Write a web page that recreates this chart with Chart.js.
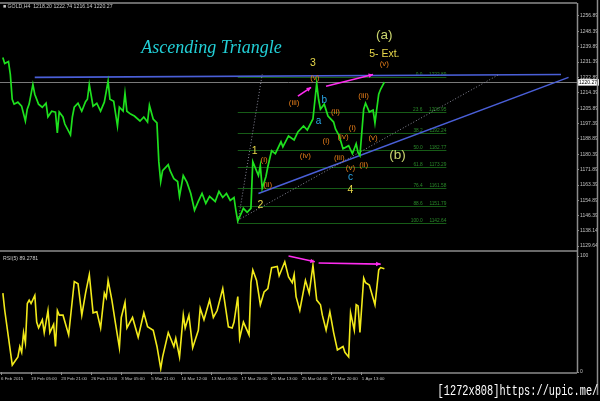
<!DOCTYPE html>
<html><head><meta charset="utf-8">
<script src="https://cdn.jsdelivr.net/npm/chart.js@4.4.1/dist/chart.umd.min.js"></script>
<style>
html,body{margin:0;padding:0;background:#000;width:600px;height:401px;overflow:hidden;font-family:'Liberation Sans',sans-serif}
#wrap{position:relative;width:600px;height:401px}
#c1{position:absolute;left:0;top:0}
#c2{position:absolute;left:0;top:252px}
.hdr{position:absolute;color:#c8c8c8;font-size:5.2px;white-space:nowrap;line-height:6px}
#wm{position:absolute;right:2px;top:383px;color:#fff;font-size:14.5px;font-family:'Liberation Mono',monospace;white-space:nowrap;transform:scaleX(0.71);transform-origin:right top}
</style></head><body>
<div id="wrap">
<canvas id="c1" width="600" height="252"></canvas>
<canvas id="c2" width="600" height="149"></canvas>
<div class="hdr" style="left:3px;top:3px">&#9632; GOLD,H4&nbsp; 1218.20 1222.74 1216.14 1220.27</div>
<div class="hdr" style="left:3px;top:255px">RSI(5) 89.2781</div>
<div id="wm">[1272x808]https://upic.me/</div>
</div>
<script>
// ---- data (bar index on H4 timeline, price) ----
const priceBars=[1,2,4,5,6,7,9,11,13,14,15,17,18,20,22,24,25,27,29,30,31,33,34,37,38,39,41,43,45,46,47,49,51,53,55,57,58,60,62,63,65,66,67,69,71,74,76,78,79,81,83,84,85,86,89,90,92,94,95,97,99,101,103,105,107,109,111,114,116,118,120,122,124,125,126,129,131,133,134,137,138,139,141,142,144,146,149,150,153,156,158,161,163,166,168,169,170,172,174,177,178,180,182,185,187,189,190,191,193,194,196,198,199,201,202,204];
const priceCloses=[1233.9,1230.6,1231.7,1224.5,1210.8,1208.1,1209.2,1207.0,1198.8,1205.3,1208.1,1219.0,1213.6,1208.1,1206.4,1208.6,1201.0,1204.2,1203.7,1192.2,1203.7,1201.0,1197.1,1191.1,1201.0,1206.4,1208.6,1204.2,1209.5,1210.8,1219.0,1207.0,1208.6,1204.2,1209.2,1220.7,1210.8,1209.7,1196.0,1206.4,1204.2,1214.1,1204.2,1202.6,1201.5,1198.8,1201.0,1198.2,1207.5,1199.9,1197.7,1176.3,1165.3,1171.3,1174.6,1171.3,1166.9,1165.3,1157.1,1168.6,1164.8,1158.7,1149.4,1154.3,1158.7,1153.2,1157.1,1154.3,1159.8,1156.5,1158.7,1154.9,1156.5,1149.4,1143.4,1150.5,1148.3,1150.5,1176.3,1168.6,1174.1,1161.5,1168.1,1173.5,1182.3,1180.7,1187.3,1184.5,1190.5,1188.3,1192.7,1196.0,1193.8,1199.9,1219.6,1210.8,1205.3,1208.1,1201.5,1198.2,1194.4,1190.5,1183.4,1185.1,1180.7,1186.2,1181.2,1179.6,1205.3,1208.6,1203.7,1204.8,1197.7,1213.6,1216.3,1220.3];
const lastPrice=1220.27;
const rsiBars=[1,2,6,9,10,11,12,13,14,15,16,18,19,20,22,23,25,26,28,29,30,31,33,36,39,41,43,45,47,49,51,53,55,56,57,59,61,63,64,66,67,70,73,76,78,81,83,85,86,89,92,93,95,97,98,100,102,105,106,108,111,113,115,118,121,123,124,126,127,129,132,133,134,136,138,140,142,144,147,148,151,153,155,156,157,159,162,164,166,168,170,171,173,175,177,179,182,183,185,186,188,189,190,191,193,194,196,199,201,202,204];
const rsiValues=[68,53,6,13,22,17,34,25,59,62,59,66,43,38,45,34,53,34,41,22,53,49,49,32,78,76,49,68,84,51,52,38,68,64,79,62,41,21,47,60,38,47,30,51,39,36,22,3,13,34,22,29,13,49,38,49,21,36,55,45,62,47,53,72,39,38,43,65,29,43,32,77,88,79,58,69,72,90,91,83,95,82,77,84,65,53,79,68,92,62,58,49,36,52,34,19,22,17,13,51,36,58,57,34,81,77,75,58,88,90,89];
const priceTicks=[1129.64,1138.14,1146.39,1154.89,1163.39,1171.89,1180.39,1188.89,1197.39,1205.89,1214.39,1222.89,1231.39,1239.89,1248.39,1256.89];
const rsiTicks=[0,100];
const tickBars=[0,16,32,48,64,80,96,112,128,144,160,176,192];
const tickLabels=['6 Feb 2015','19 Feb 05:00','23 Feb 21:00','26 Feb 13:00','3 Mar 05:00','5 Mar 21:00','10 Mar 12:00','13 Mar 05:00','17 Mar 20:00','20 Mar 13:00','25 Mar 04:00','27 Mar 20:00','1 Apr 13:00'];
const fibLevels=['0.0','23.6','38.2','50.0','61.8','76.4','88.6','100.0'];
const fibPrices=[1222.89,1203.95,1192.24,1182.77,1173.29,1161.58,1151.79,1142.64];
const fibSpan=[126,237];
const waveTexts=['(a)','5- Ext.','(v)','3','(v)','(iii)','b','(ii)','a','(iii)','(i)','(i)','(iv)','(v)','(iv)','1','(i)','(iii)','(ii)','(v)','(ii)','c','4','2','(b)'];
const waveBars=[204,204,204,166,167,156,172,178,169,193,187,173,182,198,162,135,140,180,193,186,142,186,186,138,211];
const wavePrices=[1245.9,1235.5,1230.6,1230.6,1222.9,1208.6,1210.3,1203.7,1198.8,1212.5,1194.9,1187.8,1190.0,1189.4,1179.6,1182.3,1177.4,1178.5,1174.6,1173.0,1163.7,1167.5,1160.4,1152.2,1179.6];
const waveKinds=['big','ext','minor','major','minor','minor','abc','minor','abc','minor','minor','minor','minor','minor','minor','major','minor','minor','minor','minor','minor','abc','major','major','big'];
const titleText='Ascending Triangle';
const titleAt=[112,1239.0];
const trendLines=[
  {from:[18,1222.9],to:[298,1224.5],kind:'solid'},
  {from:[137,1158.7],to:[302,1222.9],kind:'solid'},
  {from:[126,1142.3],to:[139,1224.5],kind:'dot'},
  {from:[126,1143.9],to:[265,1224.5],kind:'dot'}
];
const priceArrows=[{from:[158,1212.5],to:[165,1217.4]},{from:[173,1218.0],to:[198,1224.5]}];
const rsiArrows=[{from:[153,100],to:[167,95]},{from:[169,94],to:[202,93]}];

// ---- styles ----
const kindStyle={
  big:{font:'13.5px "Liberation Sans"',color:'#c9d46e'},
  ext:{font:'10.5px "Liberation Sans"',color:'#e8d84a'},
  major:{font:'10.5px "Liberation Sans"',color:'#e8d84a'},
  minor:{font:'8px "Liberation Sans"',color:'#e07a18'},
  abc:{font:'10px "Liberation Sans"',color:'#2aa6e6'}
};
const XMIN=-0.5,XMAX=306.5;

function arrow(ctx,x1,y1,x2,y2){
  ctx.beginPath();ctx.moveTo(x1,y1);ctx.lineTo(x2,y2);ctx.stroke();
  const a=Math.atan2(y2-y1,x2-x1),s=5;
  ctx.beginPath();ctx.moveTo(x2,y2);
  ctx.lineTo(x2-s*Math.cos(a-0.45),y2-s*Math.sin(a-0.45));
  ctx.lineTo(x2-s*Math.cos(a+0.45),y2-s*Math.sin(a+0.45));
  ctx.closePath();ctx.fill();
}
function frame(chart,isTop){
  const ctx=chart.ctx,ca=chart.chartArea;
  ctx.save();ctx.strokeStyle='#8c8c8c';ctx.lineWidth=1.5;
  ctx.beginPath();
  if(isTop){ctx.moveTo(0,3);ctx.lineTo(ca.right,3);ctx.moveTo(0,251);ctx.lineTo(ca.right,251);ctx.moveTo(ca.right+0.5,3);ctx.lineTo(ca.right+0.5,252);}
  else{ctx.moveTo(ca.right+0.5,0);ctx.lineTo(ca.right+0.5,ca.bottom+1);ctx.moveTo(0,ca.bottom+1);ctx.lineTo(ca.right,ca.bottom+1);}
  ctx.moveTo(597.5,0);ctx.lineTo(597.5,isTop?252:143);
  ctx.stroke();ctx.restore();
}
const topPlugin={
  id:'topDeco',
  beforeDatasetsDraw(chart){
    const ctx=chart.ctx,x=chart.scales.x,y=chart.scales.y,ca=chart.chartArea;
    ctx.save();
    ctx.strokeStyle='#7a7a7a';ctx.lineWidth=1;
    const yp=Math.round(y.getPixelForValue(lastPrice))+0.5;
    ctx.beginPath();ctx.moveTo(ca.left,yp);ctx.lineTo(ca.right,yp);ctx.stroke();
    ctx.strokeStyle='#175c17';ctx.fillStyle='#2a8a2a';ctx.font='4.8px "Liberation Sans"';ctx.textAlign='right';ctx.textBaseline='bottom';
    fibPrices.forEach((p,i)=>{
      const py=Math.round(y.getPixelForValue(p))+0.5;
      const xa=x.getPixelForValue(fibSpan[0]),xb=x.getPixelForValue(fibSpan[1]);
      ctx.beginPath();ctx.moveTo(xa,py);ctx.lineTo(xb,py);ctx.stroke();
      ctx.fillText(fibLevels[i]+'     '+p.toFixed(2),xb,py-0.5);
    });
    trendLines.forEach(t=>{
      ctx.beginPath();
      if(t.kind==='dot'){ctx.strokeStyle='#8a8a9a';ctx.lineWidth=1;ctx.setLineDash([1,2]);}
      else{ctx.strokeStyle='#4a5fd8';ctx.lineWidth=1.6;ctx.setLineDash([]);}
      ctx.moveTo(x.getPixelForValue(t.from[0]),y.getPixelForValue(t.from[1]));
      ctx.lineTo(x.getPixelForValue(t.to[0]),y.getPixelForValue(t.to[1]));
      ctx.stroke();
    });
    ctx.setLineDash([]);
    ctx.restore();
  },
  afterDatasetsDraw(chart){
    const ctx=chart.ctx,x=chart.scales.x,y=chart.scales.y,ca=chart.chartArea;
    ctx.save();
    ctx.strokeStyle='#ff2cf0';ctx.fillStyle='#ff2cf0';ctx.lineWidth=1.6;
    priceArrows.forEach(a=>arrow(ctx,x.getPixelForValue(a.from[0]),y.getPixelForValue(a.from[1]),x.getPixelForValue(a.to[0]),y.getPixelForValue(a.to[1])));
    ctx.textAlign='center';ctx.textBaseline='middle';
    waveTexts.forEach((t,i)=>{
      const st=kindStyle[waveKinds[i]];
      ctx.font=st.font;ctx.fillStyle=st.color;
      ctx.fillText(t,x.getPixelForValue(waveBars[i]),y.getPixelForValue(wavePrices[i]));
    });
    ctx.font='italic 18px "Liberation Serif"';ctx.fillStyle='#22cfd6';
    ctx.fillText(titleText,x.getPixelForValue(titleAt[0]),y.getPixelForValue(titleAt[1]));
    const yp=y.getPixelForValue(lastPrice);
    ctx.fillStyle='#ffffff';ctx.fillRect(ca.right+1,yp-3,21,6.5);
    ctx.fillStyle='#000';ctx.font='5px "Liberation Sans"';ctx.textAlign='left';
    ctx.fillText(lastPrice.toFixed(2),ca.right+2,yp+0.3);
    ctx.restore();
    frame(chart,true);
  }
};
const botPlugin={
  id:'botDeco',
  afterDatasetsDraw(chart){
    const ctx=chart.ctx,x=chart.scales.x,y=chart.scales.y;
    ctx.save();
    ctx.strokeStyle='#ff2cf0';ctx.fillStyle='#ff2cf0';ctx.lineWidth=1.6;
    rsiArrows.forEach(a=>arrow(ctx,x.getPixelForValue(a.from[0]),y.getPixelForValue(a.from[1]),x.getPixelForValue(a.to[0]),y.getPixelForValue(a.to[1])));
    ctx.restore();
    frame(chart,false);
  }
};

const yFont={family:'Liberation Sans',size:5};
const xFont={family:'Liberation Sans',size:4.4};
new Chart(document.getElementById('c1'),{
  type:'line',
  data:{datasets:[{data:priceBars.map((b,i)=>({x:b,y:priceCloses[i]})),borderColor:'#1ee01e',borderWidth:1.7,pointRadius:0,tension:0}]},
  options:{
    responsive:false,animation:false,devicePixelRatio:1,events:[],
    layout:{padding:{top:4,bottom:2,left:0,right:0}},
    plugins:{legend:{display:false},tooltip:{enabled:false}},
    scales:{
      x:{type:'linear',min:XMIN,max:XMAX,display:false},
      y:{position:'right',min:1128.56,max:1263.47,
        afterBuildTicks:s=>{s.ticks=priceTicks.map(v=>({value:v}));},
        afterFit:s=>{s.width=23;},
        border:{display:false},
        grid:{drawOnChartArea:false,tickLength:2,color:'#8c8c8c'},
        ticks:{color:'#c0c0c0',font:yFont,padding:1,callback:v=>Number(v).toFixed(2)}}
    }
  },
  plugins:[topPlugin]
});
new Chart(document.getElementById('c2'),{
  type:'line',
  data:{datasets:[{data:rsiBars.map((b,i)=>({x:b,y:rsiValues[i]})),borderColor:'#f2ea1a',borderWidth:1.6,pointRadius:0,tension:0}]},
  options:{
    responsive:false,animation:false,devicePixelRatio:1,events:[],
    layout:{padding:{top:4,bottom:17,left:0,right:0}},
    plugins:{legend:{display:false},tooltip:{enabled:false}},
    scales:{
      x:{type:'linear',min:XMIN,max:XMAX,position:'bottom',
        afterBuildTicks:s=>{s.ticks=tickBars.map(v=>({value:v}));},
        afterFit:s=>{s.height=12;},
        border:{display:false},
        grid:{drawOnChartArea:false,tickLength:3,color:'#8c8c8c'},
        ticks:{color:'#c0c0c0',font:xFont,padding:1,align:'start',autoSkip:false,maxRotation:0,minRotation:0,callback:(v,i)=>tickLabels[i]}},
      y:{position:'right',min:0,max:100,
        afterBuildTicks:s=>{s.ticks=rsiTicks.map(v=>({value:v}));},
        afterFit:s=>{s.width=23;},
        border:{display:false},
        grid:{drawOnChartArea:false,tickLength:2,color:'#8c8c8c'},
        ticks:{color:'#c0c0c0',font:yFont,padding:1}}
    }
  },
  plugins:[botPlugin]
});
</script>
</body></html>
